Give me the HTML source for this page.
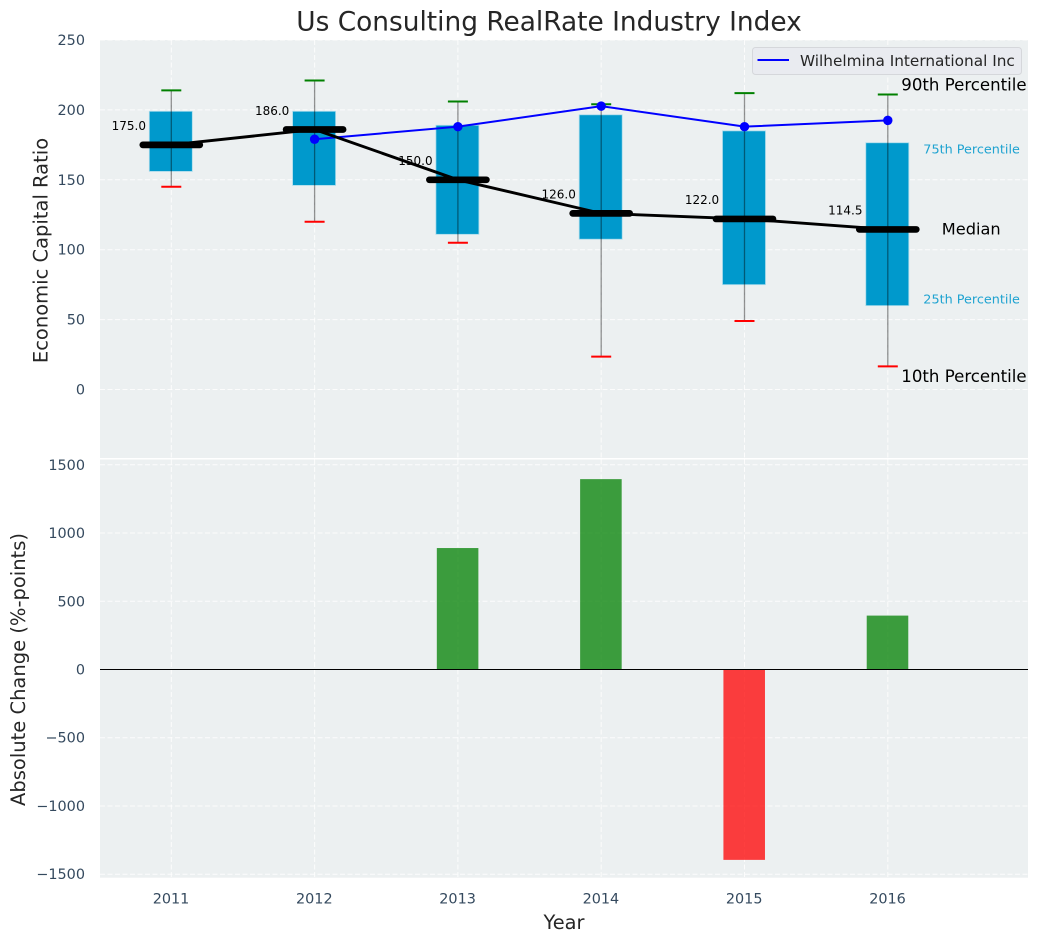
<!DOCTYPE html>
<html>
<head>
<meta charset="utf-8">
<title>Us Consulting RealRate Industry Index</title>
<style>
html,body{margin:0;padding:0;background:#fff;}
svg{display:block;}
text{font-family:"DejaVu Sans","Liberation Sans",sans-serif;}
</style>
</head>
<body>
<svg id="chart" xmlns="http://www.w3.org/2000/svg" width="1039" height="942" viewBox="0 0 1039 942"></svg>
<script>
const years = [2011, 2012, 2013, 2014, 2015, 2016];
const p10 = [145, 120, 105, 23.5, 49, 16.5];
const q1 = [156, 146, 111, 107.5, 75, 60];
const medians = [175, 186, 150, 126, 122, 114.5];
const q3 = [199, 199, 189, 196.5, 185, 176.5];
const p90 = [214, 221, 206, 204, 212, 211];
const company = [null, 179, 188, 202.7, 188, 192.5];
const changes = [0, 0, 890, 1395, -1395, 395];
const topTicks = [0, 50, 100, 150, 200, 250];
const bottomTicks = [-1500, -1000, -500, 0, 500, 1000, 1500];

const svg = document.getElementById('chart');
const NS = 'http://www.w3.org/2000/svg';
function sx(v) { return 171.3 + (v - 2011) * 143.3; }
function sy1(v) { return 389.5 - v * 1.398; }
function sy2(v) { return 669.5 - v * 0.13647; }
function make(tag, attrs, name, text) {
  const el = document.createElementNS(NS, tag);
  for (const k in attrs) el.setAttribute(k, attrs[k]);
  
  
  if (text !== undefined) el.textContent = text;
  svg.appendChild(el);
  return el;
}
function label(x, y, str, size, fill, anchor, name, extra) {
  const a = Object.assign({x: x, y: y, 'font-size': size, fill: fill, 'text-anchor': anchor, 'dominant-baseline': 'central'}, extra || {});
  return make('text', a, name, str);
}
function fmtTick(v) { return v < 0 ? '\u2212' + Math.abs(v) : String(v); }

const L = 100, R = 1028;
make('rect', {x: L, y: 40, width: R - L, height: 418, fill: '#ecf0f1'}, 'top-plot-area');
make('rect', {x: L, y: 459.5, width: R - L, height: 418.2, fill: '#ecf0f1'}, 'bottom-plot-area');

const grid = {stroke: '#fff', 'stroke-width': 1, 'stroke-dasharray': '5 2.5', opacity: 0.85};
topTicks.forEach(function (t) {
  make('line', Object.assign({x1: L, x2: R, y1: sy1(t), y2: sy1(t)}, grid), 'top-grid-line-y');
  label(85, sy1(t) + 1, fmtTick(t), 14.4, '#34495e', 'end', 'top-y-tick-' + t);
});
bottomTicks.forEach(function (t) {
  make('line', Object.assign({x1: L, x2: R, y1: sy2(t), y2: sy2(t)}, grid), 'bottom-grid-line-y');
  label(85, sy2(t) + 1, fmtTick(t), 14.4, '#34495e', 'end', 'bottom-y-tick-' + t);
});
years.forEach(function (y) {
  make('line', Object.assign({x1: sx(y), x2: sx(y), y1: 40, y2: 458}, grid), 'top-grid-line-x');
  make('line', Object.assign({x1: sx(y), x2: sx(y), y1: 459.5, y2: 877.7}, grid), 'bottom-grid-line-x');
  label(sx(y) - 0.3, 899.5, String(y), 14.4, '#34495e', 'middle', 'x-tick-' + y);
});

/* boxes */
years.forEach(function (y, i) {
  const x = sx(y);
  make('rect', {x: sx(y - 0.15) - 0.5, y: sy1(q3[i]), width: sx(y + 0.15) - sx(y - 0.15), height: sy1(q1[i]) - sy1(q3[i]), fill: '#0099cc', stroke: '#a9dbeb', 'stroke-width': 0.8}, 'box-' + y);
  make('line', {x1: x, x2: x, y1: sy1(p90[i]), y2: sy1(p10[i]), stroke: '#000', 'stroke-opacity': 0.42, 'stroke-width': 1.3}, 'whisker-' + y);
  make('line', {x1: x - 10, x2: x + 10, y1: sy1(p90[i]), y2: sy1(p90[i]), stroke: '#008000', 'stroke-width': 2}, 'cap-90th-' + y);
  make('line', {x1: x - 10, x2: x + 10, y1: sy1(p10[i]), y2: sy1(p10[i]), stroke: '#ff0000', 'stroke-width': 2}, 'cap-10th-' + y);
});

/* company series */
const companyPts = [];
years.forEach(function (y, i) {
  if (company[i] !== null) companyPts.push(sx(y) + ',' + sy1(company[i]));
});
make('polyline', {points: companyPts.join(' '), fill: 'none', stroke: '#0000ff', 'stroke-width': 2}, 'company-line');
years.forEach(function (y, i) {
  if (company[i] !== null) make('circle', {cx: sx(y), cy: sy1(company[i]), r: 4.7, fill: '#0000ff'}, 'company-point-' + y);
});

/* median series */
make('polyline', {points: years.map(function (y, i) { return sx(y) + ',' + sy1(medians[i]); }).join(' '), fill: 'none', stroke: '#000', 'stroke-width': 2.9}, 'median-line');
years.forEach(function (y, i) {
  make('line', {x1: sx(y) - 28.5, x2: sx(y) + 28.5, y1: sy1(medians[i]), y2: sy1(medians[i]), stroke: '#000', 'stroke-width': 6.7, 'stroke-linecap': 'round'}, 'median-bar-' + y);
  label(sx(y) - 25.3, sy1(medians[i]) - 18.7, medians[i].toFixed(1), 12, '#000', 'end', 'median-value-' + y);
});

/* percentile annotations anchored to the last box */
const last = years.length - 1;
const lx = sx(years[last]);
label(lx + 13.5, sy1(p90[last]) - 9.5, '90th Percentile', 16.6, '#000', 'start', 'label-90th-percentile');
label(lx + 13.5, sy1(p10[last]) + 10, '10th Percentile', 16.6, '#000', 'start', 'label-10th-percentile');
label(lx + 35.5, sy1(q3[last]) + 7, '75th Percentile', 12.8, '#1fa3d1', 'start', 'label-75th-percentile');
label(lx + 35.5, sy1(q1[last]) - 5.5, '25th Percentile', 12.8, '#1fa3d1', 'start', 'label-25th-percentile');
label(lx + 54, sy1(medians[last]) - 0.5, 'Median', 16.2, '#000', 'start', 'label-median');

/* legend */
make('rect', {x: 752.5, y: 47.5, width: 269, height: 27, rx: 3, fill: '#e9ebf0', stroke: '#d5d7db', 'stroke-width': 1}, 'legend-box');
make('line', {x1: 757.5, x2: 789, y1: 60, y2: 60, stroke: '#0000ff', 'stroke-width': 2}, 'legend-line');
label(800, 61, 'Wilhelmina International Inc', 15.3, '#262626', 'start', 'legend-label');

/* bars */
years.forEach(function (y, i) {
  if (changes[i] === 0) return;
  const a = sy2(changes[i]), b = sy2(0);
  make('rect', {x: sx(y - 0.145) - 0.3, y: Math.min(a, b), width: sx(y + 0.145) - sx(y - 0.145), height: Math.abs(a - b), fill: changes[i] > 0 ? '#008000' : '#ff0000', 'fill-opacity': 0.75}, 'change-bar-' + y);
});
make('line', {x1: L, x2: R, y1: sy2(0), y2: sy2(0), stroke: '#000', 'stroke-width': 1.1}, 'zero-line');

/* titles */
label(549, 22, 'Us Consulting RealRate Industry Index', 26.4, '#262626', 'middle', 'chart-title');
label(564, 922.5, 'Year', 19.4, '#262626', 'middle', 'x-axis-title');
label(0, 0, 'Economic Capital Ratio', 19.5, '#262626', 'middle', 'top-y-axis-title', {transform: 'translate(41 250.5) rotate(-90)'});
label(0, 0, 'Absolute Change (%-points)', 19.5, '#262626', 'middle', 'bottom-y-axis-title', {transform: 'translate(18.5 669.5) rotate(-90)'});
</script>
</body>
</html>
